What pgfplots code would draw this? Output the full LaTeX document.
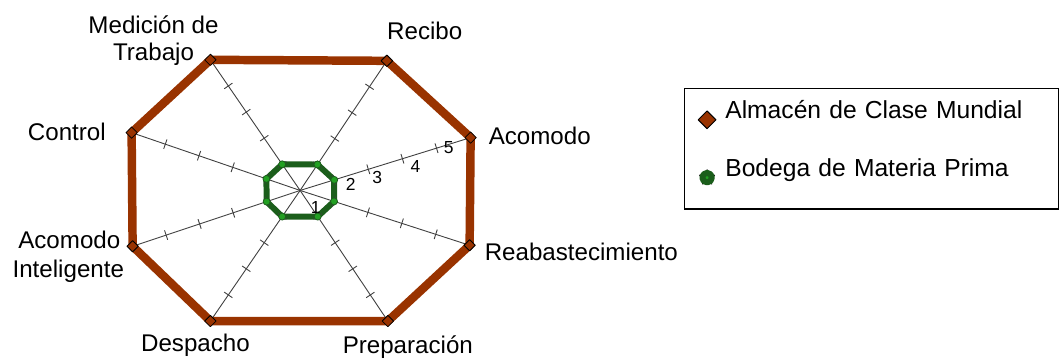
\documentclass[border=0pt]{standalone}
\usepackage{fontspec}
\setmainfont{Liberation Sans}
\usepackage{pgfplots}
\usepackage{pgfplotstable}
\pgfplotsset{compat=1.18}

\definecolor{almacen}{HTML}{993300}
\definecolor{bodega}{HTML}{1B5E1B}
\definecolor{bodegamk}{HTML}{22A022}
\definecolor{spokegray}{HTML}{404040}

\newcommand{\lab}{\fontsize{24.2}{28}\selectfont}
\newcommand{\leglab}{\fontsize{24.7}{28}\selectfont}
\newcommand{\numlab}{\fontsize{17.5}{20}\selectfont}

% spoke direction (value 5 end) and scores
\pgfplotstableread{
cat dx dy alm bod
Recibo 87 130 5 1
Acomodo 171 53 5 1
Reabastecimiento 170 -55 5 1
Preparacion 88 -131 5 1
Despacho -90 -131 5 1
AcomodoInteligente -168 -56 5 1
Control -169 58 5 1
Medicion -90 131 5 1
Recibo 87 130 5 1
}\radar

\pgfplotstableread{
t s
0 0
5 5
}\spokeends

\pgfplotstableread{
t s
1 1
2 2
3 3
4 4
}\spoketicks

\newcommand{\spoke}[2]{%
  \addplot[spokegray, line width=0.9pt, no marks, forget plot]
    table[x expr=#1*\thisrow{t}/5, y expr=#2*\thisrow{s}/5] {\spokeends};
  \addplot[spokegray, only marks, mark=|, mark size=5pt, forget plot,
    mark options={rotate={atan2(#2,#1)}, line width=0.9pt}]
    table[x expr=#1*\thisrow{t}/5, y expr=#2*\thisrow{s}/5] {\spoketicks};
}

\begin{document}
\begin{tikzpicture}
\begin{axis}[
    x=1pt, y=1pt,
    xmin=-301, xmax=758,
    ymin=-169, ymax=191,
    hide axis,
    clip=false,
    legend cell align=left,
    legend style={
        at={(axis cs:385,103)}, anchor=north west,
        draw=black, line width=1.3pt, fill=white,
        inner xsep=9.5pt, inner ysep=10.5pt,
        row sep=16pt,
        font=\leglab,
        nodes={inner xsep=4.5pt, inner ysep=0pt, text height=20pt, text depth=22pt},
        /tikz/every even column/.append style={text width=320pt}
    }
]
    \path (rel axis cs:0,0) rectangle (rel axis cs:1,1);

    \spoke{87}{130}
    \spoke{171}{53}
    \spoke{170}{-55}
    \spoke{88}{-131}
    \spoke{-90}{-131}
    \spoke{-168}{-56}
    \spoke{-169}{58}
    \spoke{-90}{131}

    % Almacen de Clase Mundial
    \addplot[almacen, line width=8.5pt, line join=round, line cap=round,
        mark=square*, mark size=4pt,
        mark options={rotate=45, draw=black, fill=almacen, line width=0.8pt},
        legend image code/.code={
            \path[draw=none, fill=none] (-13pt,0pt) -- (13.8pt,0pt);
            \draw[only marks, mark=square*, mark size=6.3pt,
              mark options={rotate=45, draw=black, fill=almacen, line width=1pt}]
              plot coordinates {(0pt,0pt)};}]
        table[x expr=\thisrow{dx}*\thisrow{alm}/5, y expr=\thisrow{dy}*\thisrow{alm}/5] {\radar};
    \addlegendentry{Almacén de Clase Mundial}

    % Bodega de Materia Prima
    \addplot[bodega, line width=6pt, line join=round, line cap=round,
        mark=*, mark size=3.5pt,
        mark options={draw=bodega, fill=bodegamk, line width=0.8pt},
        legend image code/.code={
            \path[draw=none, fill=none] (-13pt,0pt) -- (13.8pt,0pt);
            \draw[only marks, mark=star, mark size=7.5pt,
              mark options={draw=black, line width=1.8pt}]
              plot coordinates {(0pt,0pt)};
            \draw[only marks, mark=*, mark size=4.8pt,
              mark options={draw=none, fill=bodegamk}]
              plot coordinates {(0pt,0pt)};}]
        table[x expr=\thisrow{dx}*\thisrow{bod}/5, y expr=\thisrow{dy}*\thisrow{bod}/5] {\radar};
    \addlegendentry{Bodega de Materia Prima}

    % scale labels
    \node[font=\numlab] at (axis cs:15.7,-17.3) {1};
    \node[font=\numlab] at (axis cs:50.7,6) {2};
    \node[font=\numlab] at (axis cs:77.3,12.7) {3};
    \node[font=\numlab] at (axis cs:115.7,24.3) {4};
    \node[font=\numlab] at (axis cs:149,42.7) {5};

    % category labels
    \node[font=\lab, anchor=base] at (axis cs:125,151.7) {Recibo};
    \node[font=\lab, anchor=base] at (axis cs:-147,157) {Medición de};
    \node[font=\lab, anchor=base] at (axis cs:-147,130) {Trabajo};
    \node[font=\lab, anchor=base] at (axis cs:-234,50) {Control};
    \node[font=\lab, anchor=base] at (axis cs:-231.5,-58) {Acomodo};
    \node[font=\lab, anchor=base] at (axis cs:-232.5,-87) {Inteligente};
    \node[font=\lab, anchor=base west, inner xsep=0pt] at (axis cs:189,46) {Acomodo};
    \node[font=\lab, anchor=base west, inner xsep=0pt] at (axis cs:185,-70) {Reabastecimiento};
    \node[font=\lab, anchor=base] at (axis cs:-105,-162) {Despacho};
    \node[font=\lab, anchor=base] at (axis cs:108,-164) {Preparación};
\end{axis}
\end{tikzpicture}
\end{document}
